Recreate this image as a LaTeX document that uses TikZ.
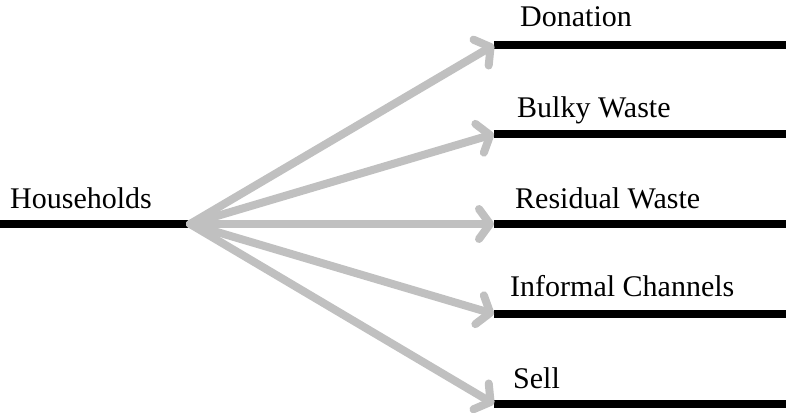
\documentclass[tikz,border=0pt]{standalone}
\usepackage{fontspec}
\setmainfont{Liberation Serif}
\usetikzlibrary{arrows.meta}

\definecolor{flowgray}{RGB}{192,192,192}

\begin{document}
\begin{tikzpicture}[x=1pt,y=-1pt,
	bar/.style={line width=8pt},
	flow/.style={flowgray,line width=8pt,line cap=round,
		-{Straight Barb[round,length=11pt,width=30pt]}},
	lbl/.style={anchor=base west,inner sep=0pt,font=\fontsize{30}{36}\selectfont}]
			\useasboundingbox (0,0) rectangle (788,417);
			% bars
			\coordinate (hh) at (0,224);
			\coordinate (hub) at (190,224);
			\coordinate (don) at (494,45);
			\coordinate (bul) at (494,134);
			\coordinate (res) at (494,224);
			\coordinate (inf) at (494,314);
			\coordinate (sel) at (494,404);
			\draw[bar] (hh) -- (hub);
			\draw[bar] (don) -- ++(292,0);
			\draw[bar] (bul) -- ++(292,0);
			\draw[bar] (res) -- ++(292,0);
			\draw[bar] (inf) -- ++(292,0);
			\draw[bar] (sel) -- ++(292,0);
			% labels
			\node[lbl] (hhl) at (10,209) {Households};
			\node[lbl] (donl) at (520,27) {Donation};
			\node[lbl] (bull) at (517,118) {Bulky Waste};
			\node[lbl] (resl) at (515,208) {Residual Waste};
			\node[lbl] (infl) at (510,296) {Informal Channels};
			\node[lbl] (sell) at (513,388) {Sell};
			% flows
			\draw[flow] (hub) -- (don);
			\draw[flow] (hub) -- (bul);
			\draw[flow] (hub) -- (res);
			\draw[flow] (hub) -- (inf);
			\draw[flow] (hub) -- (sel);
		\end{tikzpicture}
\end{document}
